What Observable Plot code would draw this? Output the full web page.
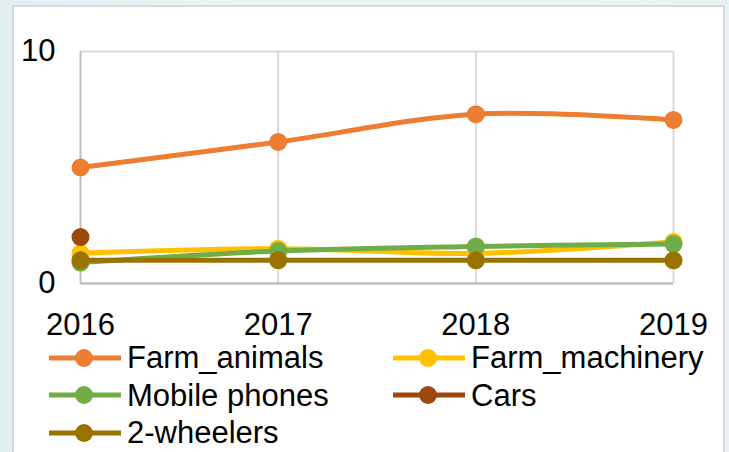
<!DOCTYPE html>
<html>
<head>
<meta charset="utf-8">
<script src="https://cdn.jsdelivr.net/npm/d3@7"></script>
<script src="https://cdn.jsdelivr.net/npm/@observablehq/plot@0.6"></script>
<style>
  html, body { margin: 0; padding: 0; }
  body {
    width: 729px; height: 452px; overflow: hidden; position: relative;
    background: linear-gradient(90deg, #e4eef2 0%, #eef5f7 50%, #e8f1f4 100%);
    font-family: "Liberation Sans", Arial, sans-serif;
  }
  #panel {
    position: absolute; left: 12px; top: 5px; width: 713px; height: 460px;
    background: #fff; border: 2px solid #d9d9d9; box-sizing: border-box;
  }
  #chart { position: absolute; left: 0; top: 0; }
  #legend {
    position: absolute; left: 0; top: 339px; width: 729px;
    font-size: 31px; color: #000; line-height: 37px;
  }
  .item { position: absolute; display: flex; align-items: center; height: 37px; white-space: nowrap; }
  .item svg { margin-right: 6px; }
</style>
</head>
<body>
<div id="panel"></div>
<div id="chart"></div>
<div id="legend"></div>
<script>
const years = [2016, 2017, 2018, 2019];
const seriesNames = ["Farm_animals", "Farm_machinery", "Mobile phones", "Cars", "2-wheelers"];
const seriesColors = ["#ED7D31", "#FFC000", "#70AD47", "#9E480E", "#997300"];
const farmAnimals = [5.0, 6.1, 7.3, 7.05];
const farmMachinery = [1.3, 1.5, 1.3, 1.8];
const mobilePhones = [0.9, 1.4, 1.6, 1.7];
const cars = [2.0, null, null, null];
const twoWheelers = [1.0, 1.0, 1.0, 1.0];
const yTicks = [0, 10];

const seriesValues = [farmAnimals, farmMachinery, mobilePhones, cars, twoWheelers];
const data = [];
seriesNames.forEach((name, i) => {
  years.forEach((yr, j) => {
    data.push({series: name, year: yr, value: seriesValues[i][j]});
  });
});
const colorOf = Object.fromEntries(seriesNames.map((n, i) => [n, seriesColors[i]]));

const marks = [
  Plot.ruleX(years.slice(1), {stroke: "#d9d9d9", strokeWidth: 2}),
  Plot.ruleY([10], {stroke: "#d9d9d9", strokeWidth: 2}),
  Plot.ruleX([2016], {stroke: "#bfbfbf", strokeWidth: 2}),
  Plot.ruleY([0], {stroke: "#bfbfbf", strokeWidth: 2.5}),
  Plot.axisY({ticks: yTicks, tickSize: 0, tickPadding: 25, fontSize: 31, label: null, tickFormat: d => String(d)}),
  Plot.axisX({ticks: years, tickSize: 0, tickPadding: 29, fontSize: 31, label: null, tickFormat: d => String(d)})
];
seriesNames.forEach(name => {
  const d = data.filter(r => r.series === name && r.value != null);
  marks.push(Plot.line(d, {x: "year", y: "value", stroke: colorOf[name], strokeWidth: 5, curve: "catmull-rom"}));
  marks.push(Plot.dot(d, {x: "year", y: "value", fill: colorOf[name], r: 9}));
});

const chart = Plot.plot({
  width: 729,
  height: 340,
  marginLeft: 80,
  marginRight: 56,
  marginTop: 51,
  marginBottom: 57,
  style: {background: "transparent", fontFamily: "'Liberation Sans', Arial, sans-serif", color: "#000", overflow: "visible"},
  x: {type: "linear", domain: [2016, 2019], axis: null},
  y: {domain: [0, 10], axis: null},
  marks
});
document.getElementById("chart").appendChild(chart);

// legend
const legend = document.getElementById("legend");
const positions = [[49, 0], [393, 0], [49, 1], [393, 1], [49, 2]];
seriesNames.forEach((name, i) => {
  const [x, row] = positions[i];
  const div = document.createElement("div");
  div.className = "item";
  div.style.left = x + "px";
  div.style.top = (row * 37.5) + "px";
  div.innerHTML = `<svg width="72" height="22"><line x1="0" x2="72" y1="11" y2="11" stroke="${colorOf[name]}" stroke-width="5"/><circle cx="35" cy="11" r="9" fill="${colorOf[name]}"/></svg><span>${name}</span>`;
  legend.appendChild(div);
});
</script>
</body>
</html>
